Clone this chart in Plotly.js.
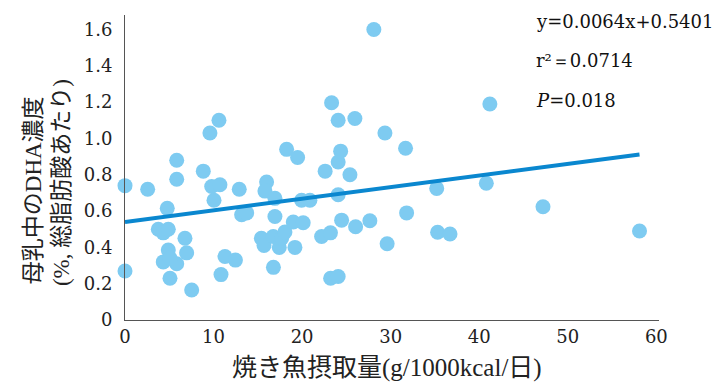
<!DOCTYPE html>
<html>
<head>
<meta charset="utf-8">
<script src="https://cdn.plot.ly/plotly-3.0.1.min.js"></script>
<style>html,body{margin:0;padding:0;background:#fff;}#chart{width:717px;height:383px;}</style>
</head>
<body>
<div id="chart"></div>
<script>
// Grilled fish intake (g/1000kcal/day)
const fishIntake = [
  0, 0, 2.56, 3.76, 4.32, 4.89, 4.77, 5.84, 5.84, 6.77,
  4.89, 6.96, 4.32, 5.84, 5.08, 5.08, 7.53, 8.84, 9.59, 10.61,
  9.79, 10.72, 10.05, 10.84, 11.29, 12.47, 12.9, 13.17, 13.74, 15.4,
  15.7, 15.99, 15.8, 16.93, 16.93, 16.74, 16.76, 17.42, 17.69, 18.06,
  18.25, 19.49, 19.19, 19.0, 20.12, 19.94, 20.88, 22.2, 22.6, 23.2,
  23.33, 23.22, 24.07, 24.07, 24.07, 24.07, 24.35, 24.46, 25.4, 25.96,
  26.04, 27.65, 28.1, 29.35, 29.6, 31.68, 31.8, 35.2, 35.3, 36.7,
  41.2, 40.8, 47.2, 58.1
];
// DHA concentration in breast milk (% of total fatty acids)
const dhaConc = [
  0.74, 0.27, 0.72, 0.50, 0.48, 0.50, 0.615, 0.88, 0.775, 0.45,
  0.385, 0.37, 0.32, 0.31, 0.34, 0.23, 0.165, 0.82, 1.03, 1.10,
  0.735, 0.745, 0.66, 0.25, 0.35, 0.33, 0.72, 0.58, 0.59, 0.45,
  0.41, 0.76, 0.71, 0.67, 0.57, 0.46, 0.29, 0.40, 0.45, 0.485,
  0.94, 0.895, 0.40, 0.54, 0.536, 0.66, 0.66, 0.46, 0.82, 0.48,
  1.197, 0.23, 0.24, 0.69, 0.87, 1.10, 0.93, 0.55, 0.80, 1.11,
  0.514, 0.547, 1.60, 1.03, 0.42, 0.946, 0.59, 0.725, 0.483, 0.474,
  1.19, 0.753, 0.624, 0.49
];
// Regression line given on the chart
const slope = 0.0064;
const intercept = 0.5401;
const trendX = [0, 58.1];
const trendY = trendX.map(v => slope * v + intercept);

const xTickVals = [0, 10, 20, 30, 40, 50, 60];
const yTickVals = [0, 0.2, 0.4, 0.6, 0.8, 1.0, 1.2, 1.4, 1.6];
const yTickText = ["0", "0.2", "0.4", "0.6", "0.8", "1.0", "1.2", "1.4", "1.6"];

const xTitle = "焼き魚摂取量(g/1000kcal/日)";
const yTitle1 = "母乳中のDHA濃度";
const yTitle2 = "(%, 総脂肪酸あたり)";
const statLines = ["y=0.0064x+0.5401", "r²＝0.0714", "<i>P</i>=0.018"];

const serif = "'Liberation Serif', 'Noto Sans CJK JP', serif";
const numFont = "'DejaVu Serif', 'Liberation Serif', serif";

const traces = [
  {
    x: fishIntake, y: dhaConc, type: 'scatter', mode: 'markers',
    marker: {size: 15, color: '#7ecbf1', line: {width: 0}},
    cliponaxis: false, hoverinfo: 'skip'
  },
  {
    x: trendX, y: trendY, type: 'scatter', mode: 'lines',
    line: {color: '#0a87cf', width: 4},
    cliponaxis: false, hoverinfo: 'skip'
  }
];

const statY = [0.98, 0.852, 0.721];
const annotations = statLines.map((t, i) => ({
  text: t, xref: 'paper', yref: 'paper', x: 0.766, y: statY[i],
  xanchor: 'left', yanchor: 'middle', showarrow: false,
  font: {family: numFont, size: 18, color: '#111'}
}));
annotations.push({
  text: yTitle1, xref: 'paper', yref: 'paper', x: -0.172, y: 0.426,
  xanchor: 'center', yanchor: 'middle', textangle: -90, showarrow: false,
  font: {family: serif, size: 23, color: '#222'}
});
annotations.push({
  text: yTitle2, xref: 'paper', yref: 'paper', x: -0.12, y: 0.452,
  xanchor: 'center', yanchor: 'middle', textangle: -90, showarrow: false,
  font: {family: serif, size: 23, color: '#222'}
});
annotations.push({
  text: xTitle, xref: 'paper', yref: 'paper', x: 0.49, y: -0.158,
  xanchor: 'center', yanchor: 'middle', showarrow: false,
  font: {family: serif, size: 25, color: '#222'}
});

const layout = {
  width: 717, height: 383,
  margin: {l: 125, r: 58, t: 15, b: 63},
  paper_bgcolor: '#fff', plot_bgcolor: '#fff',
  showlegend: false,
  xaxis: {
    range: [0, 60.3], tickvals: xTickVals, showgrid: false, zeroline: false,
    showline: true, linecolor: '#555', linewidth: 1, ticks: '',
    tickfont: {family: numFont, size: 18, color: '#222'}
  },
  yaxis: {
    range: [0, 1.68], tickvals: yTickVals, ticktext: yTickText,
    showgrid: false, zeroline: false,
    showline: true, linecolor: '#555', linewidth: 1, ticks: '',
    ticklabelstandoff: 8,
    tickfont: {family: numFont, size: 18, color: '#222'}
  },
  annotations: annotations
};

Plotly.newPlot('chart', traces, layout, {staticPlot: true, displayModeBar: false});
</script>
</body>
</html>
